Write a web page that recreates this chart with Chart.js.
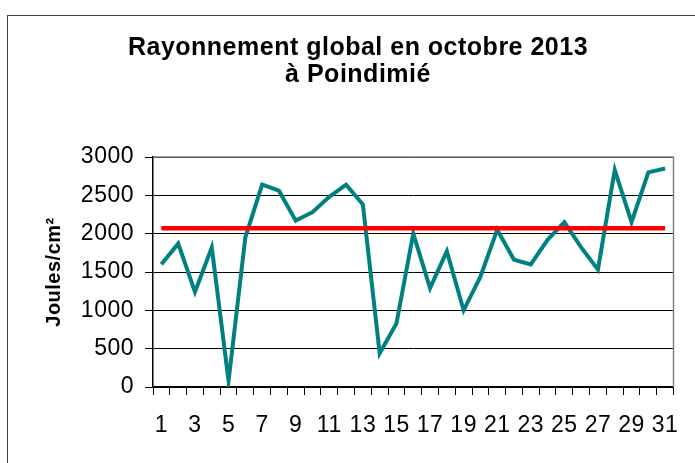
<!DOCTYPE html>
<html>
<head>
<meta charset="utf-8">
<script src="https://cdn.jsdelivr.net/npm/chart.js@4/dist/chart.umd.min.js"></script>
<style>
    html, body { margin: 0; padding: 0; background: #fff; overflow: hidden; }
    #wrap { position: relative; width: 695px; height: 463px; }
    #frame { position: absolute; left: 7px; top: 15px; width: 800px; height: 600px; border: 1px solid #404040; }
    canvas { position: absolute; left: 0; top: 0; }
</style>
</head>
<body>
<div id="wrap">
    <div id="frame"></div>
    <canvas id="chart" width="695" height="463"></canvas>
</div>
<script>
// jours du mois
var days = ['1','2','3','4','5','6','7','8','9','10','11','12','13','14','15','16',
            '17','18','19','20','21','22','23','24','25','26','27','28','29','30','31'];

// rayonnement global journalier (Joules/cm²)
var rayonnement = [1600, 1870, 1240, 1820, 80, 1950, 2640, 2560, 2170, 2280, 2480, 2640, 2380, 440, 830, 2000,
                   1290, 1770, 1000, 1440, 2050, 1660, 1600, 1920, 2150, 1820, 1530, 2830, 2150, 2800, 2850];

// moyenne du mois
var moyenne = [2070, 2070, 2070, 2070, 2070, 2070, 2070, 2070, 2070, 2070, 2070, 2070, 2070, 2070, 2070, 2070,
               2070, 2070, 2070, 2070, 2070, 2070, 2070, 2070, 2070, 2070, 2070, 2070, 2070, 2070, 2070];

// graduations de l'axe vertical
var yTicks = [0, 500, 1000, 1500, 2000, 2500, 3000];

var fontFamily = '"Liberation Sans", Arial, Helvetica, sans-serif';

// texte un peu plus large (rendu Excel)
var letterSpacing = {
    id: 'letterSpacing',
    beforeDraw: function (chart) {
        chart.ctx.letterSpacing = '0.5px';
    }
};

// bordure grise en haut et à droite de la zone de tracé
var plotBorder = {
    id: 'plotBorder',
    afterDraw: function (chart) {
        var a = chart.chartArea;
        var ctx = chart.ctx;
        ctx.save();
        ctx.strokeStyle = '#808080';
        ctx.lineWidth = 1.5;
        ctx.beginPath();
        ctx.moveTo(a.left, a.top);
        ctx.lineTo(a.right, a.top);
        ctx.lineTo(a.right, a.bottom);
        ctx.stroke();
        ctx.restore();
    }
};

var ctx = document.getElementById('chart').getContext('2d');
var myChart = new Chart(ctx, {
    type: 'line',
    data: {
        labels: days,
        datasets: [
            {
                label: 'Moyenne',
                data: moyenne,
                borderColor: '#ff0000',
                borderWidth: 4.5,
                pointRadius: 0,
                tension: 0,
                fill: false
            },
            {
                label: 'Rayonnement global',
                data: rayonnement,
                borderColor: '#008080',
                borderWidth: 4,
                pointRadius: 0,
                tension: 0,
                fill: false
            }
        ]
    },
    options: {
        responsive: false,
        animation: false,
        layout: { padding: { left: 27, right: 6, top: 0, bottom: 0 } },
        plugins: {
            legend: { display: false },
            tooltip: { enabled: false },
            title: {
                display: true,
                text: ['Rayonnement global en octobre 2013', 'à Poindimié'],
                color: '#000',
                font: { family: fontFamily, size: 25, weight: 'bold', lineHeight: '27px' },
                padding: { top: 35, bottom: 68 }
            }
        },
        scales: {
            x: {
                offset: true,
                afterFit: function (scale) { scale.height = 76; },
                grid: {
                    offset: true,
                    drawOnChartArea: false,
                    drawTicks: true,
                    tickLength: 8,
                    tickColor: '#000',
                    tickWidth: 1
                },
                border: { display: true, color: '#000', width: 1.5 },
                ticks: {
                    autoSkip: false,
                    maxRotation: 0,
                    minRotation: 0,
                    padding: 17,
                    color: '#000',
                    font: { family: fontFamily, size: 23 },
                    callback: function (value, index) {
                        return index % 2 === 0 ? days[index] : '';
                    }
                }
            },
            y: {
                min: yTicks[0],
                max: yTicks[yTicks.length - 1],
                afterFit: function (scale) { scale.width = 126; },
                afterBuildTicks: function (scale) {
                    scale.ticks = yTicks.map(function (v) { return { value: v }; });
                },
                grid: {
                    color: '#000',
                    lineWidth: 1,
                    drawTicks: true,
                    tickLength: 8,
                    tickColor: '#000'
                },
                border: { display: true, color: '#000', width: 1.5 },
                ticks: {
                    padding: 11,
                    color: '#000',
                    font: { family: fontFamily, size: 23 },
                    callback: function (value) { return String(value); }
                },
                title: {
                    display: true,
                    text: 'Joules/cm²',
                    color: '#000',
                    font: { family: fontFamily, size: 20, weight: 'bold' },
                    padding: { top: 15, bottom: 0 }
                }
            }
        }
    },
    plugins: [letterSpacing, plotBorder]
});
</script>
</body>
</html>
